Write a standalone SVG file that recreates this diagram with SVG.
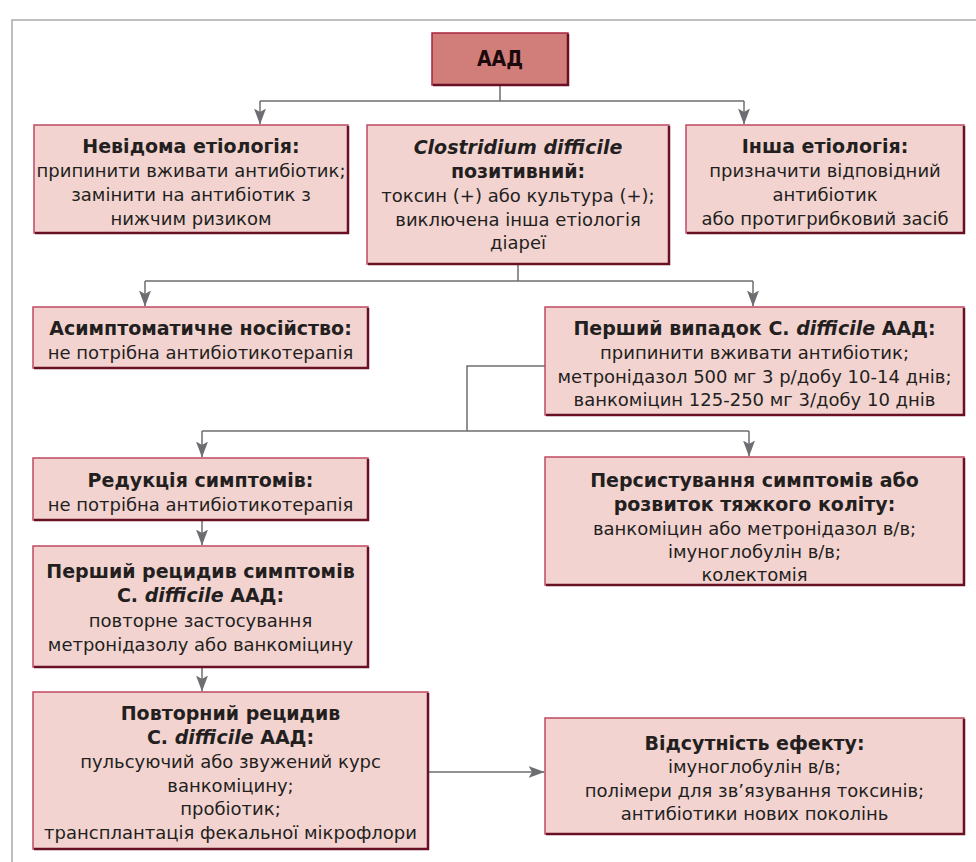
<svg xmlns="http://www.w3.org/2000/svg" width="976" height="862" viewBox="0 0 976 862">
<defs>
<marker id="arr" markerUnits="userSpaceOnUse" markerWidth="16" markerHeight="12" viewBox="0 0 16 12" refX="15.5" refY="6" orient="auto">
<path d="M0,0 L16,6 L0,12 L3.5,6 Z" fill="#6d6e71"/>
</marker>
</defs>
<style>
.frame{fill:none;stroke:#a7a9ac;stroke-width:1.5}
.box{fill:#f2d3d0;stroke:#bf4a62;stroke-width:1.5}
.top{fill:#d17e7a;stroke:#a8243f;stroke-width:1.5}
.sh{fill:none;stroke:#6a1024;stroke-width:2.5}
.c{fill:none;stroke:#6d6e71;stroke-width:1.5}
text{font-family:"DejaVu Sans","Liberation Sans",sans-serif;font-size:18px;fill:#231f20;text-anchor:middle}
.b{font-weight:bold;font-size:19px}
.i{font-style:italic}
.t0{font-family:"DejaVu Sans Condensed","DejaVu Sans",sans-serif;font-weight:bold;font-size:21px;font-stretch:condensed;fill:#1a0a0c}
</style>
<rect width="976" height="862" fill="#ffffff"/>
<path class="frame" d="M12,862 V20 H976"/>
<g id="connectors">
<path class="c" d="M500,85 V101 M260,101 H744"/>
<path class="c" d="M260,101 V124" marker-end="url(#arr)"/>
<path class="c" d="M744,101 V124" marker-end="url(#arr)"/>
<path class="c" d="M518,264 V281 M145,281 H753"/>
<path class="c" d="M145,281 V306" marker-end="url(#arr)"/>
<path class="c" d="M753,281 V306" marker-end="url(#arr)"/>
<path class="c" d="M545,366 H467 V431 M202,431 H749"/>
<path class="c" d="M202,431 V457" marker-end="url(#arr)"/>
<path class="c" d="M749,431 V456" marker-end="url(#arr)"/>
<path class="c" d="M202,520 V545" marker-end="url(#arr)"/>
<path class="c" d="M202,667 V691" marker-end="url(#arr)"/>
<path class="c" d="M428,772 H544" marker-end="url(#arr)"/>
</g>
<g id="n-aad">
<rect class="top" x="432" y="33" width="136" height="52"/>
<path class="sh" d="M433,85 H568 V34"/>
<text class="t0" x="500" y="66">ААД</text>
</g>
<g id="n-unknown">
<rect class="box" x="34" y="125" width="314" height="108"/>
<path class="sh" d="M35,233 H348 V126"/>
<text class="b" x="191" y="153">Невідома етіологія:</text>
<text x="191" y="177">припинити вживати антибіотик;</text>
<text x="191" y="201">замінити на антибіотик з</text>
<text x="191" y="225">нижчим ризиком</text>
</g>
<g id="n-cdiff">
<rect class="box" x="367" y="125" width="302" height="139"/>
<path class="sh" d="M368,264 H669 V126"/>
<text class="b i" x="518" y="154">Clostridium difficile</text>
<text class="b" x="518" y="178">позитивний:</text>
<text x="518" y="202">токсин (+) або культура (+);</text>
<text x="518" y="226">виключена інша етіологія</text>
<text x="518" y="249">діареї</text>
</g>
<g id="n-other">
<rect class="box" x="686" y="125" width="278" height="108"/>
<path class="sh" d="M687,233 H964 V126"/>
<text class="b" x="825" y="153">Інша етіологія:</text>
<text x="825" y="177">призначити відповідний</text>
<text x="825" y="201">антибіотик</text>
<text x="825" y="225">або протигрибковий засіб</text>
</g>
<g id="n-asym">
<rect class="box" x="33" y="307" width="335" height="61"/>
<path class="sh" d="M34,368 H368 V308"/>
<text class="b" x="200.5" y="335">Асимптоматичне носійство:</text>
<text x="200.5" y="359">не потрібна антибіотикотерапія</text>
</g>
<g id="n-first">
<rect class="box" x="545" y="307" width="419" height="108"/>
<path class="sh" d="M546,415 H964 V308"/>
<text class="b" x="754.5" y="335">Перший випадок C. <tspan class="i">difficile</tspan> ААД:</text>
<text x="754.5" y="359">припинити вживати антибіотик;</text>
<text x="754.5" y="383">метронідазол 500 мг 3 р/добу 10-14 днів;</text>
<text x="754.5" y="406">ванкоміцин 125-250 мг 3/добу 10 днів</text>
</g>
<g id="n-reduction">
<rect class="box" x="33" y="458" width="335" height="62"/>
<path class="sh" d="M34,520 H368 V459"/>
<text class="b" x="200.5" y="487">Редукція симптомів:</text>
<text x="200.5" y="511">не потрібна антибіотикотерапія</text>
</g>
<g id="n-persist">
<rect class="box" x="545" y="457" width="419" height="128"/>
<path class="sh" d="M546,585 H964 V458"/>
<text class="b" x="754.5" y="487">Персистування симптомів або</text>
<text class="b" x="754.5" y="511">розвиток тяжкого коліту:</text>
<text x="754.5" y="535">ванкоміцин або метронідазол в/в;</text>
<text x="754.5" y="558">імуноглобулін в/в;</text>
<text x="754.5" y="581">колектомія</text>
</g>
<g id="n-relapse1">
<rect class="box" x="33" y="546" width="335" height="121"/>
<path class="sh" d="M34,667 H368 V547"/>
<text class="b" x="200.5" y="578">Перший рецидив симптомів</text>
<text class="b" x="200.5" y="602">C. <tspan class="i">difficile</tspan> ААД:</text>
<text x="200.5" y="627">повторне застосування</text>
<text x="200.5" y="651">метронідазолу або ванкоміцину</text>
</g>
<g id="n-relapse2">
<rect class="box" x="33" y="692" width="395" height="157"/>
<path class="sh" d="M34,849 H428 V693"/>
<text class="b" x="230.5" y="720">Повторний рецидив</text>
<text class="b" x="230.5" y="744">C. <tspan class="i">difficile</tspan> ААД:</text>
<text x="230.5" y="768">пульсуючий або звужений курс</text>
<text x="230.5" y="792">ванкоміцину;</text>
<text x="230.5" y="815">пробіотик;</text>
<text x="230.5" y="839">трансплантація фекальної мікрофлори</text>
</g>
<g id="n-noeffect">
<rect class="box" x="545" y="718" width="419" height="116"/>
<path class="sh" d="M546,834 H964 V719"/>
<text class="b" x="754.5" y="750">Відсутність ефекту:</text>
<text x="754.5" y="773">імуноглобулін в/в;</text>
<text x="754.5" y="797">полімери для зв’язування токсинів;</text>
<text x="754.5" y="820">антибіотики нових поколінь</text>
</g>
</svg>
